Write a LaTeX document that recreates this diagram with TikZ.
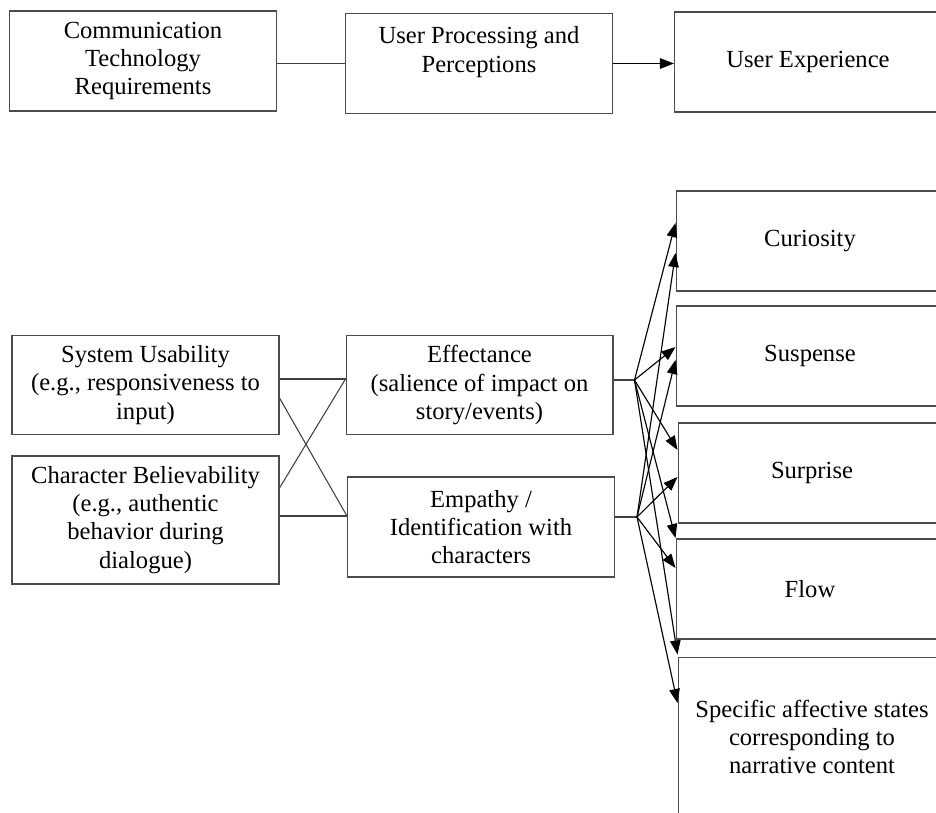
\documentclass[tikz,border=0pt]{standalone}
\usepackage{fontspec}
\setmainfont{Liberation Serif}
\usetikzlibrary{arrows.meta,calc}

\begin{document}
\begin{tikzpicture}[x = 0.02cm, y = -0.02cm,
	box/.style = {draw = black!70, line width = 0.6pt, rectangle, inner sep = 0pt,
		minimum width = 5.34cm, minimum height = 2cm, align = center,
		font = \fontsize{14}{16}\selectfont},
	link/.style = {draw = black!75, line width = 0.6pt},
	arr/.style = {draw = black, line width = 0.65pt, -{Triangle[length = 8pt, width = 6pt]}}]
	\useasboundingbox (0,0) rectangle (936,812);
	\clip (0,0) rectangle (936,812);

	\node[box] (ctr) at (143,61) {Communication\\Technology\\Requirements};
	\node[box] (upp) at (479,63.5) {User Processing and\\Perceptions\\~};
	\node[box] (uex) at (808,62) {User Experience};

	\node[box, minimum height = 1.98cm] (sys) at (145.5,385) {System Usability\\(e.g., responsiveness to\\input)};
	\node[box, minimum height = 2.56cm] (chb) at (145.5,520) {Character Believability\\(e.g., authentic\\behavior during\\dialogue)};
	\node[box, minimum height = 1.98cm] (eff) at (479.5,385) {Effectance\\(salience of impact on\\story/events)};
	\node[box] (emp) at (481,527) {Empathy /\\Identification with\\characters};

	\node[box, minimum width = 5.36cm] (cur) at (810,241) {Curiosity};
	\node[box, minimum width = 5.36cm] (sus) at (810,356) {Suspense};
	\node[box, minimum width = 5.36cm] (sur) at (812,473) {Surprise};
	\node[box, minimum width = 5.36cm] (flo) at (810,589) {Flow};
	\node[box, minimum width = 5.36cm, minimum height = 3.2cm] (spe) at (812,737) {Specific affective states\\corresponding to\\narrative content};

	\draw[link] (ctr.east |- upp.west) -- (upp.west);
	\draw[arr] (upp.east) -- (upp.east -| uex.west);

	\draw[link] ($(sys.east)+(0,-6)$) -- ($(eff.west)+(0,-6)$);
	\draw[link] ($(sys.east)+(0,13)$) -- ($(emp.west)+(0,-11)$);
	\draw[link] ($(chb.east)+(0,-32)$) -- ($(eff.west)+(0,-6)$);
	\draw[link] ($(chb.east)+(0,-4)$) -- ($(emp.west)+(0,-11)$);

	\coordinate (effj) at ($(eff.east)+(21,-5)$);
	\coordinate (empj) at ($(emp.east)+(22,-10)$);
	\draw[link] ($(eff.east)+(0,-5)$) -- (effj);
	\draw[link] ($(emp.east)+(0,-10)$) -- (empj);

	\draw[arr] (effj) -- ($(cur.west)+(0,-18)$);
	\draw[arr] (effj) -- ($(sus.west)+(0,-9)$);
	\draw[arr] (effj) -- ($(sur.west)+(0,-23)$);
	\draw[arr] (effj) -- ($(flo.west)+(0,-51)$);
	\draw[arr] (effj) -- ($(spe.north west)+(0,-2)$);

	\draw[arr] (empj) -- ($(cur.west)+(0,12)$);
	\draw[arr] (empj) -- ($(sus.west)+(0,4)$);
	\draw[arr] (empj) -- ($(sur.west)+(0,4)$);
	\draw[arr] (empj) -- ($(flo.west)+(0,-21)$);
	\draw[arr] (empj) -- ($(spe.west)+(0,-34)$);
\end{tikzpicture}
\end{document}
